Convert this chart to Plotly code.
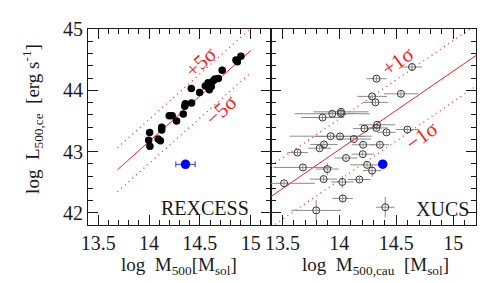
import plotly.graph_objects as go

# ---------------- data ----------------
# REXCESS (left panel)
rex_logM = [14.006, 13.997, 14.009, 14.090, 14.112, 14.125, 14.125, 14.199, 14.228,
            14.271, 14.337, 14.352, 14.357, 14.419, 14.416, 14.498, 14.554, 14.581,
            14.593, 14.613, 14.633, 14.648, 14.682, 14.720, 14.855, 14.869, 14.904]
rex_logL = [43.313, 43.184, 43.088, 43.204, 43.176, 43.351, 43.398, 43.584, 43.584,
            43.498, 43.615, 43.738, 43.780, 43.793, 44.029, 43.963, 44.071, 44.125,
            44.009, 44.063, 44.156, 44.184, 44.195, 44.330, 44.497, 44.466, 44.556]

# XUCS (right panel)
xucs_logM = [14.638, 14.326, 14.541, 14.288, 14.317, 13.938, 14.015, 14.015, 13.853,
             14.332, 14.220, 14.326, 14.414, 14.597, 13.924, 14.006, 14.127, 13.865,
             13.827, 14.209, 14.356, 13.633, 14.059, 14.206, 13.680, 13.894, 14.244,
             14.288, 13.515, 13.862, 14.026, 14.176, 14.030, 13.797, 14.403]
xucs_logL = [44.381, 44.190, 43.943, 43.901, 43.803, 43.618, 43.649, 43.622, 43.556,
             43.437, 43.375, 43.386, 43.313, 43.359, 43.251, 43.246, 43.204, 43.116,
             43.054, 43.111, 43.111, 42.983, 42.895, 42.957, 42.740, 42.714, 42.782,
             42.689, 42.481, 42.550, 42.503, 42.543, 42.234, 42.039, 42.090]
xucs_errM = [0.09, 0.09, 0.15, 0.13, 0.11, 0.33, 0.24, 0.12, 0.19,
             0.16, 0.10, 0.10, 0.08, 0.10, 0.36, 0.22, 0.15, 0.12,
             0.10, 0.10, 0.08, 0.09, 0.10, 0.10, 0.26, 0.10, 0.15,
             0.08, 0.27, 0.12, 0.10, 0.10, 0.09, 0.22, 0.08]
xucs_errL = [0.05, 0.04, 0.04, 0.04, 0.04, 0.04, 0.04, 0.04, 0.04,
             0.04, 0.04, 0.04, 0.04, 0.04, 0.04, 0.04, 0.04, 0.04,
             0.04, 0.04, 0.04, 0.04, 0.04, 0.04, 0.04, 0.10, 0.04,
             0.10, 0.04, 0.04, 0.10, 0.04, 0.06, 0.17, 0.17]

# highlighted object (blue)
blue_rex = dict(logM=14.359, logL=42.791, errM=0.095)
blue_xucs = dict(logM=14.381, logL=42.794)

# fitted relations: pivot, intercept, slope, scatter offset, x-extent
fit_rex = dict(pivot=14.0, norm=43.163, slope=1.486, off=0.36, xmin=13.69, xmax=15.0)
fit_xucs = dict(pivot=13.4, norm=42.265, slope=1.28, off=0.50, xmin=13.4, xmax=15.2)

x_range = [13.4, 15.2]
y_range = [41.8, 45.002]

FONT = "Liberation Serif"
RED = "#ff1a1a"
INK = "#1a1a1a"

fig = go.Figure()


def fit_line(f, shift):
    xs = [f["xmin"], f["xmax"]]
    ys = [f["norm"] + f["slope"] * (x - f["pivot"]) + shift for x in xs]
    return xs, ys


for f, xa, ya in [(fit_rex, "x", "y"), (fit_xucs, "x2", "y2")]:
    for shift, dash in [(0, "solid"), (f["off"], "1px,4px"), (-f["off"], "1px,4px")]:
        xs, ys = fit_line(f, shift)
        fig.add_trace(go.Scatter(x=xs, y=ys, mode="lines", xaxis=xa, yaxis=ya,
                                 line=dict(color=RED, width=1.2 if dash != "solid" else 1, dash=dash),
                                 showlegend=False, hoverinfo="skip"))

# left: REXCESS points
fig.add_trace(go.Scatter(x=rex_logM, y=rex_logL, mode="markers", xaxis="x", yaxis="y",
                         marker=dict(color="black", size=7.5), showlegend=False))
fig.add_trace(go.Scatter(x=[blue_rex["logM"]], y=[blue_rex["logL"]], mode="markers",
                         xaxis="x", yaxis="y",
                         error_x=dict(type="constant", value=blue_rex["errM"], color="#3030ff",
                                      thickness=1, width=3),
                         marker=dict(color="#0000ff", size=9.5), showlegend=False))

# right: XUCS points
fig.add_trace(go.Scatter(x=xucs_logM, y=xucs_logL, mode="markers", xaxis="x2", yaxis="y2",
                         error_x=dict(type="data", array=xucs_errM, color="#8a8a8a",
                                      thickness=1, width=0),
                         error_y=dict(type="data", array=xucs_errL, color="#8a8a8a",
                                      thickness=1, width=0),
                         marker=dict(color="rgba(0,0,0,0)", size=7,
                                     line=dict(color="#333333", width=1)),
                         cliponaxis=False, showlegend=False))
fig.add_trace(go.Scatter(x=[blue_xucs["logM"]], y=[blue_xucs["logL"]], mode="markers",
                         xaxis="x2", yaxis="y2",
                         marker=dict(color="#0000ff", size=9.5), showlegend=False))

axis_common = dict(range=x_range, showline=True, linecolor=INK, linewidth=1, mirror="allticks",
                   ticks="inside", ticklen=10, tickcolor=INK, tickwidth=1,
                   dtick=0.5, tick0=13.5, showgrid=False, zeroline=False,
                   ticklabeloverflow="allow",
                   tickfont=dict(family=FONT, size=20, color=INK),
                   minor=dict(dtick=0.1, tick0=13.4, ticks="inside", ticklen=5, tickcolor=INK,
                              showgrid=False))
yaxis_common = dict(range=y_range, showline=True, linecolor=INK, linewidth=1, mirror="allticks",
                    ticks="inside", ticklen=10, tickcolor=INK, tickwidth=1,
                    dtick=1, tick0=42, showgrid=False, zeroline=False,
                    ticklabeloverflow="allow",
                    tickfont=dict(family=FONT, size=20, color=INK),
                    minor=dict(dtick=0.2, tick0=42, ticks="inside", ticklen=5, tickcolor=INK,
                               showgrid=False))

split = 183 / 388
fig.update_layout(
    width=491, height=283,
    margin=dict(l=80, r=23, t=10, b=66),
    paper_bgcolor="white", plot_bgcolor="white",
    font=dict(family=FONT, color=INK),
    xaxis=dict(domain=[0, split], anchor="y", **axis_common),
    xaxis2=dict(domain=[split, 1], anchor="y2", **axis_common),
    yaxis=dict(domain=[0, 1], anchor="x", **yaxis_common),
    yaxis2=dict(domain=[0, 1], anchor="x2", matches="y", showticklabels=False,
                **yaxis_common),
)

nb = "\u00a0"
ann = [
    dict(text="REXCESS", xref="x domain", yref="y domain", x=0.89, y=0.085,
         xanchor="right", yanchor="middle", showarrow=False,
         font=dict(family=FONT, size=20, color=INK)),
    dict(text="XUCS", xref="x2 domain", yref="y2 domain", x=0.975, y=0.081,
         xanchor="right", yanchor="middle", showarrow=False,
         font=dict(family=FONT, size=20, color=INK)),
    dict(text="+5σ", xref="x", yref="y", x=14.512, y=44.458, textangle=-43,
         showarrow=False, font=dict(family=FONT, size=21, color=RED)),
    dict(text="\u22125σ", xref="x", yref="y", x=14.71, y=43.684, textangle=-43,
         showarrow=False, font=dict(family=FONT, size=21, color=RED)),
    dict(text="+1σ", xref="x2", yref="y2", x=14.517, y=44.474, textangle=-36,
         showarrow=False, font=dict(family=FONT, size=21, color=RED)),
    dict(text="\u22121σ", xref="x2", yref="y2", x=14.723, y=43.25, textangle=-36,
         showarrow=False, font=dict(family=FONT, size=21, color=RED)),
    dict(text=f"log{nb}{nb}L<sub>500,ce</sub>{nb}{nb}[erg{nb}s<sup>-1</sup>]",
         xref="paper", yref="paper", x=-0.145, y=0.54, textangle=-90,
         xanchor="center", yanchor="middle", showarrow=False,
         font=dict(family=FONT, size=19, color=INK)),
    dict(text=f"log{nb}{nb}M<sub>500</sub>[M<sub>sol</sub>]",
         xref="paper", yref="paper", x=0.235, y=-0.21,
         xanchor="center", yanchor="middle", showarrow=False,
         font=dict(family=FONT, size=19, color=INK)),
    dict(text=f"log{nb}{nb}M<sub>500,cau</sub>{nb}{nb}[M<sub>sol</sub>]",
         xref="paper", yref="paper", x=0.742, y=-0.21,
         xanchor="center", yanchor="middle", showarrow=False,
         font=dict(family=FONT, size=19, color=INK)),
]
fig.update_layout(annotations=ann)

fig.write_html("out.html")
